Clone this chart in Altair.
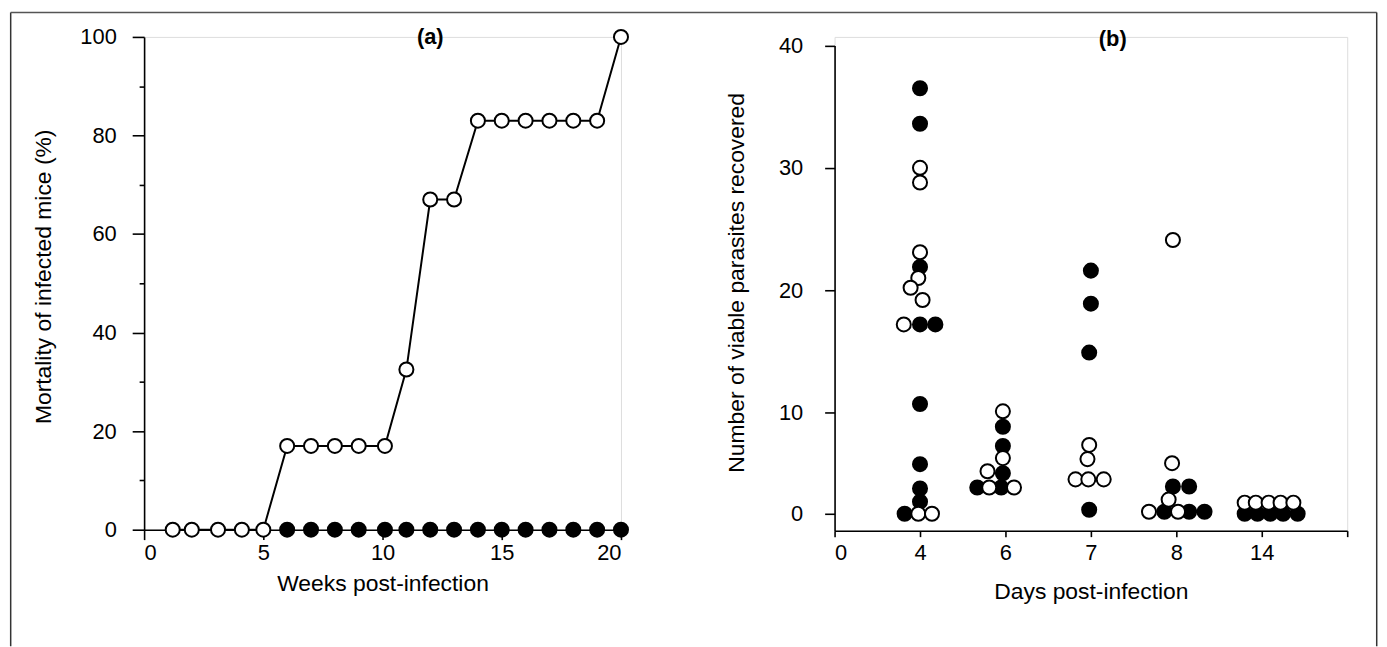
import altair as alt
import pandas as pd

FONT = "Liberation Sans"

# ---------------- Panel (a): mortality ----------------
weeks_open = [1.2, 2, 3.1, 4.1, 5, 6, 7, 8, 9, 10.1, 11, 12, 13, 14, 15, 16, 17, 18, 19, 20]
mort_open = [0, 0, 0, 0, 0, 17, 17, 17, 17, 17, 32.5, 67, 67, 83, 83, 83, 83, 83, 83, 100]
weeks_filled = [6, 7, 8, 9, 10.1, 11, 12, 13, 14, 15, 16, 17, 18, 19, 20]
mort_filled = [0, 0, 0, 0, 0, 0, 0, 0, 0, 0, 0, 0, 0, 0, 0]
a_xticks = [0, 5, 10, 15, 20]
a_yticks = [0, 20, 40, 60, 80, 100]
a_yminor = [10, 30, 50, 70, 90]

# ---------------- Panel (b): parasites ----------------
b_ticklabels = ["0", "4", "6", "7", "8", "14", ""]
# filled points first (drawn underneath), open points after
b_day = (["4"] * 10 + ["6"] * 5 + ["7"] * 4 + ["8"] * 5 + ["14"] * 5
         + ["4"] * 9 + ["6"] * 5 + ["7"] * 5 + ["8"] * 5 + ["14"] * 5)
b_value = [36.5, 33.6, 21.9, 17.2, 17.2, 10.7, 4.9, 2.5, 1.2, 0,
           8.6, 6.7, 4.0, 2.6, 2.6,
           21.6, 18.9, 14.9, 0.4,
           2.7, 2.7, 0.2, 0.2, 0.2,
           0, 0, 0, 0, 0,
           30.0, 28.8, 23.1, 21.0, 20.2, 19.2, 17.2, 0, 0,
           10.1, 5.5, 4.2, 2.6, 2.6,
           6.8, 5.4, 3.4, 3.4, 3.4,
           24.1, 5.0, 1.4, 0.2, 0.2,
           1.1, 1.1, 1.1, 1.1, 1.1]
b_group = ["filled"] * 29 + ["open"] * 29
# horizontal spread of each dot around its day, in category steps
b_offset = [0, 0, 0, 0, 0.18, 0, 0, 0, 0, -0.18,
            -0.03, -0.03, -0.03, -0.33, -0.05,
            0, 0, -0.02, -0.02,
            -0.04, 0.15, -0.14, 0.15, 0.33,
            -0.2, -0.05, 0.1, 0.25, 0.42,
            0, 0, 0, -0.02, -0.11, 0.03, -0.19, -0.02, 0.14,
            -0.03, -0.03, -0.21, -0.19, 0.1,
            -0.02, -0.04, -0.18, -0.03, 0.15,
            -0.04, -0.05, -0.09, -0.32, 0.02,
            -0.2, -0.07, 0.08, 0.22, 0.37]
b_yticks = [0, 10, 20, 30, 40]

# ---------------- tables ----------------
df_a = pd.DataFrame({
    "week": weeks_open + weeks_filled,
    "mort": mort_open + mort_filled,
    "group": ["open"] * len(weeks_open) + ["filled"] * len(weeks_filled),
})
df_a_line = df_a[df_a.group == "open"]

pos_of = {lab: i for i, lab in enumerate(b_ticklabels) if lab}
df_b = pd.DataFrame({
    "day": b_day,
    "value": b_value,
    "group": b_group,
    "pos": [pos_of[d] + o for d, o in zip(b_day, b_offset)],
    "order": list(range(len(b_day))),
})

fill_scale = alt.Scale(domain=["filled", "open"], range=["black", "white"])

LAB = 22
TIT = 23
axis_common = dict(
    grid=False, domainColor="black", domainWidth=1.6, tickColor="black", tickWidth=1.6,
    labelFont=FONT, labelFontSize=LAB, labelColor="black",
    titleFont=FONT, titleFontSize=TIT, titleFontWeight="normal", titleColor="black",
)

W_A, H_A = 480, 496
W_B, H_B = 516, 497

# ---- panel a ----
xa = alt.X("week:Q", scale=alt.Scale(domain=[0, 20], nice=False),
           axis=alt.Axis(values=a_xticks, tickSize=10, labelPadding=3,
                         title="Weeks post-infection", titleY=54, titleBaseline="middle",
                         **axis_common))
ya_scale = alt.Scale(domain=[0, 100], nice=False)
ya = alt.Y("mort:Q", scale=ya_scale,
           axis=alt.Axis(values=a_yticks, tickSize=12, labelPadding=16,
                         title="Mortality of infected mice (%)", titleX=-101, titleY=241,
                         titleBaseline="middle", **axis_common))
ya_plain = alt.Y("mort:Q", scale=ya_scale, axis=None)

line_a = alt.Chart(df_a_line).mark_line(color="black", strokeWidth=2).encode(x=xa, y=ya)
pts_a = alt.Chart(df_a).mark_point(shape="circle", filled=True, size=200, stroke="black",
                                   strokeWidth=2, opacity=1).encode(
    x=xa, y=ya_plain, fill=alt.Fill("group:N", scale=fill_scale, legend=None))
minor_a = alt.Chart(pd.DataFrame({"m": a_yminor})).mark_point(opacity=0).encode(
    y=alt.Y("m:Q", scale=ya_scale,
            axis=alt.Axis(values=a_yminor, labels=False, tickSize=5, domain=False, title=None,
                          orient="left", grid=False, tickColor="black", tickWidth=1.6)))
lab_a = alt.Chart(pd.DataFrame({"t": ["(a)"]})).mark_text(
    font=FONT, fontSize=22, fontWeight="bold", baseline="middle", align="center", color="black"
).encode(text="t:N", x=alt.value(288), y=alt.value(0))

# thin frame around the whole figure (decoration, in pixels relative to panel a)
frame_src = pd.DataFrame({"k": [0]})
FL, FT, FR, FB = -134.3, -24.7, 1240.7, 613.3
frame_left = alt.Chart(frame_src).mark_rule(color="#333", strokeWidth=1.5).encode(
    x=alt.value(FL), y=alt.value(FT), y2=alt.value(FB))
frame_top = alt.Chart(frame_src).mark_rule(color="#555", strokeWidth=1.5).encode(
    x=alt.value(FL), x2=alt.value(FR), y=alt.value(FT))
frame_right = alt.Chart(frame_src).mark_rule(color="#333", strokeWidth=1.5).encode(
    x=alt.value(FR), y=alt.value(FT), y2=alt.value(FB))

panel_a = alt.layer(frame_left, frame_top, frame_right, line_a, pts_a, minor_a, lab_a
                    ).resolve_axis(y="independent").properties(width=W_A, height=H_A)

# ---- panel b ----
xb = alt.X("pos:Q", scale=alt.Scale(domain=[0, 6], nice=False),
           axis=alt.Axis(values=list(range(len(b_ticklabels))), tickSize=6, labelPadding=6,
                         labelExpr=str(b_ticklabels) + "[datum.value]",
                         title="Days post-infection", titleY=61, titleBaseline="middle",
                         **axis_common))
yb = alt.Y("value:Q",
           scale=alt.Scale(type="linear", domain=[-1.63, 0, 10, 40],
                           range=[H_B, 480.0, 378.1, 8.6], nice=False, zero=False),
           axis=alt.Axis(values=b_yticks, tickSize=10, labelPadding=22,
                         title="Number of viable parasites recovered", titleX=-99, titleY=247,
                         titleBaseline="middle", **axis_common))
pts_b = alt.Chart(df_b).mark_point(shape="circle", filled=True, size=200, stroke="black",
                                   strokeWidth=2, opacity=1).encode(
    x=xb, y=yb, fill=alt.Fill("group:N", scale=fill_scale, legend=None),
    order="order:Q")
lab_b = alt.Chart(pd.DataFrame({"t": ["(b)"]})).mark_text(
    font=FONT, fontSize=22, fontWeight="bold", baseline="middle", align="center", color="black"
).encode(text="t:N", x=alt.value(280), y=alt.value(2))

panel_b = alt.layer(pts_b, lab_b).properties(width=W_B, height=H_B)

chart = alt.hconcat(panel_a, panel_b, spacing=215, bounds="flush").configure_view(
    stroke=None).configure(background="white",
                           padding={"left": 1, "top": 1, "right": 1, "bottom": 1})

chart.save("out.html", embed_options={"renderer": "svg", "actions": False})
